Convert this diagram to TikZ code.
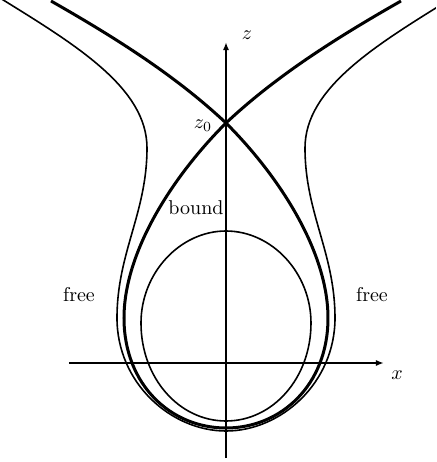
\documentclass[tikz,border=0pt]{standalone}
\usetikzlibrary{arrows.meta}
\begin{document}
\begin{tikzpicture}[x=0.5pt,y=0.5pt, >={Latex[length=4pt,width=3pt]}]
  \useasboundingbox (-226,-99) rectangle (210,363);
  \clip (-226,-99) rectangle (210,363);
  %% axes
  \draw[->, line width=0.9pt] (-157,0) -- (158,0);
  \draw[->, line width=0.9pt] (0,-95) -- (0,321);
  \node (xlab) at (171,-12) {$x$};
  \node (zlab) at (21,328) {$z$};
  \node (zzero) at (-23,237) {$z_0$};
  %% bound orbit
  \draw[line width=0.8pt] (0,132) .. controls (46,132) and (85,90) .. (85,40)
    .. controls (85,-15) and (47,-58) .. (0,-58)
    .. controls (-47,-58) and (-85,-15) .. (-85,40)
    .. controls (-85,90) and (-46,132) .. cycle;
  \node (boundlab) at (-30,155) {bound};
  %% separatrix through z0
  \draw[line width=1.5pt] (175,362) .. controls (110,325) and (50,287) .. (0,240)
    .. controls (-55,185) and (-102,110) .. (-102,45)
    .. controls (-102,-22) and (-55,-65) .. (0,-65)
    .. controls (55,-65) and (102,-22) .. (102,45)
    .. controls (102,110) and (55,185) .. (0,240)
    .. controls (-50,287) and (-110,325) .. (-175,362);
  %% free orbit
  \draw[line width=0.8pt] (-226,365) .. controls (-150,318) and (-79,275) .. (-79,215)
    .. controls (-79,150) and (-109,110) .. (-109,45)
    .. controls (-109,-20) and (-55,-68) .. (0,-68)
    .. controls (55,-68) and (109,-20) .. (109,45)
    .. controls (109,110) and (79,150) .. (79,215)
    .. controls (79,275) and (150,318) .. (226,365);
  \node (freeleft) at (-147,68) {free};
  \node (freeright) at (146,68) {free};
\end{tikzpicture}
\end{document}
